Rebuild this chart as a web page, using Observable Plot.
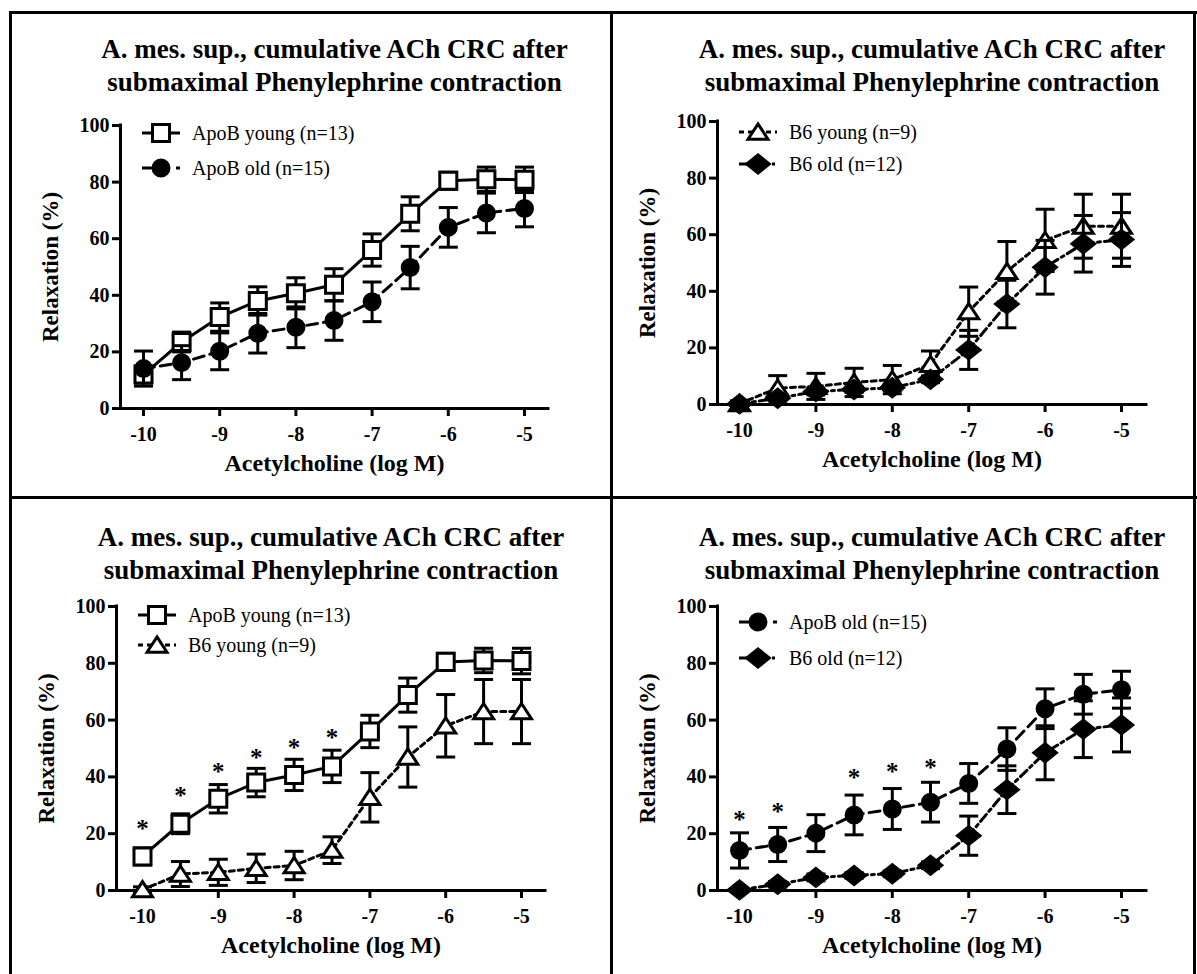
<!DOCTYPE html>
<html><head><meta charset="utf-8">
<script src="https://cdn.jsdelivr.net/npm/d3@7"></script>
<script src="https://cdn.jsdelivr.net/npm/@observablehq/plot@0.6"></script>
<style>
body{margin:0;background:#fff;}
#root{position:relative;width:1197px;height:974px;overflow:hidden;font-family:'Liberation Serif',serif;}
.panel{position:absolute;}
.border{position:absolute;background:#000;z-index:10;}
.legend{position:absolute;left:0;top:0;z-index:5;overflow:visible;}
svg text{font-family:'Liberation Serif',serif !important;}
</style></head><body><div id="root"></div><script>
// ---- data ----
const doses = [-10, -9.5, -9, -8.5, -8, -7.5, -7, -6.5, -6, -5.5, -5];
const apobYoungMean = [12, 23.5, 32.3, 38, 40.7, 43.7, 56, 68.8, 80.5, 81, 80.8];
const apobYoungSem  = [3, 3.5, 5, 5, 5.5, 5.7, 5.7, 6, 3, 4.3, 4.5];
const apobOldMean   = [14.1, 16.2, 20.2, 26.6, 28.7, 31.1, 37.7, 49.8, 64, 69.1, 70.7];
const apobOldSem    = [6.2, 6, 6.5, 7, 7.2, 7, 7, 7.5, 7, 7, 6.5];
const b6YoungMean   = [0.3, 5.8, 6.4, 7.8, 8.8, 14.2, 32.8, 47, 58, 63, 63];
const b6YoungSem    = [1, 4.4, 4.6, 5, 5, 4.7, 8.7, 10.6, 11, 11.3, 11.3];
const b6OldMean     = [0.2, 2.2, 4.6, 5.3, 5.9, 8.9, 19.3, 35.5, 48.5, 56.8, 58.3];
const b6OldSem      = [0.5, 1, 1.2, 1, 1, 1.2, 6.9, 8.4, 9.5, 10, 9.5];
const starsYoungX = [-10, -9.5, -9, -8.5, -8, -7.5];
const starsYoungY = [23.5, 35, 43.5, 48.5, 52, 55.5];
const starsOldX = [-10, -9.5, -8.5, -8, -7.5];
const starsOldY = [26.5, 29.5, 41.5, 43.5, 45];
const xTicks = [-10, -9, -8, -7, -6, -5];
const yTicks = [0, 20, 40, 60, 80, 100];
const titleText = "A. mes. sup., cumulative ACh CRC after\nsubmaximal Phenylephrine contraction";
const xLabel = "Acetylcholine (log M)";
const yLabel = "Relaxation (%)";

// ---- symbols & series styles ----
const triSymbol = {draw(ctx, size) { const r = Math.sqrt(size / Math.PI);
  ctx.moveTo(0, -0.85 * r); ctx.lineTo(1.05 * r, 0.75 * r); ctx.lineTo(-1.05 * r, 0.75 * r); ctx.closePath(); }};
const diaSymbol = {draw(ctx, size) { const r = Math.sqrt(size / Math.PI);
  ctx.moveTo(0, -0.92 * r); ctx.lineTo(1.15 * r, 0); ctx.lineTo(0, 0.92 * r); ctx.lineTo(-1.15 * r, 0); ctx.closePath(); }};
const capSymbol = {draw(ctx, size) { const w = Math.sqrt(size / Math.PI); ctx.moveTo(-w, 0); ctx.lineTo(w, 0); }};
const series = {
  apobYoung: {label: "ApoB young (n=13)", mean: apobYoungMean, sem: apobYoungSem, symbol: d3.symbolSquare, fill: "white", r: 9.6, dash: null},
  apobOld:   {label: "ApoB old (n=15)", mean: apobOldMean, sem: apobOldSem, symbol: d3.symbolCircle, fill: "black", r: 8, dash: "11,6"},
  b6Young:   {label: "B6 young (n=9)", mean: b6YoungMean, sem: b6YoungSem, symbol: triSymbol, fill: "white", r: 9.5, dash: "5,4"},
  b6Old:     {label: "B6 old (n=12)", mean: b6OldMean, sem: b6OldSem, symbol: diaSymbol, fill: "black", r: 9.8, dash: "9,4,3,4"}
};

const panels = [
  {left:10, top:12, w:601, h:485, axisX:120, x10:143, x5:524, xEnd:548, y0:408, y100:125, titleY:63.5, legendY:[133,168], keys:["apobYoung","apobOld"], stars:null},
  {left:611, top:12, w:586, h:485, axisX:717, x10:739, x5:1121, xEnd:1146, y0:404, y100:121, titleY:63.5, legendY:[132,164], keys:["b6Young","b6Old"], stars:null},
  {left:10, top:497, w:601, h:477, axisX:116, x10:142, x5:521, xEnd:545, y0:890, y100:606, titleY:551, legendY:[615,645], keys:["apobYoung","b6Young"], stars:[starsYoungX, starsYoungY]},
  {left:611, top:497, w:586, h:477, axisX:717, x10:739, x5:1121, xEnd:1146, y0:890, y100:606, titleY:551, legendY:[622,658], keys:["apobOld","b6Old"], stars:[starsOldX, starsOldY]}
];

const FONT = "Liberation Serif";
const root = document.getElementById("root");

function rowsOf(s) {
  return doses.map((x, i) => ({x, y: s.mean[i], lo: s.mean[i] - s.sem[i], hi: s.mean[i] + s.sem[i]}));
}

for (const p of panels) {
  const k = (p.x5 - p.x10) / 5;
  const xmin = -10 - (p.x10 - p.axisX) / k;
  const xmax = -5 + (p.xEnd - p.x5) / k;
  const marks = [];
  marks.push(Plot.ruleY([0], {stroke: "black", strokeWidth: 3, strokeLinecap: "square"}));
  marks.push(Plot.ruleX([xmin], {stroke: "black", strokeWidth: 3, strokeLinecap: "square"}));
  marks.push(Plot.axisX({ticks: xTicks, tickFormat: d => `${d}`, tickSize: 8, tickPadding: 10, strokeWidth: 3,
    fontSize: 20, fontWeight: "bold", fontFamily: FONT, fill: "black", stroke: "black", label: null}));
  marks.push(Plot.axisY({ticks: yTicks, tickFormat: d => `${d}`, tickSize: 8, tickPadding: 3, strokeWidth: 3,
    fontSize: 20, fontWeight: "bold", fontFamily: FONT, fill: "black", stroke: "black", label: null}));
  for (const key of p.keys) {
    const s = series[key];
    const rows = rowsOf(s);
    marks.push(Plot.ruleX(rows, {x: "x", y1: "lo", y2: "hi", stroke: "black", strokeWidth: 3}));
    marks.push(Plot.dot(rows, {x: "x", y: "hi", symbol: capSymbol, r: 9.5, stroke: "black", strokeWidth: 3, fill: "none"}));
    marks.push(Plot.dot(rows, {x: "x", y: "lo", symbol: capSymbol, r: 9.5, stroke: "black", strokeWidth: 3, fill: "none"}));
    marks.push(Plot.line(rows, {x: "x", y: "y", stroke: "black", strokeWidth: 3, strokeDasharray: s.dash}));
    marks.push(Plot.dot(rows, {x: "x", y: "y", symbol: s.symbol, r: s.r, fill: s.fill, stroke: "black", strokeWidth: 3}));
  }
  if (p.stars) {
    const [sx, sy] = p.stars;
    const starRows = sx.map((x, i) => ({x, y: sy[i]}));
    marks.push(Plot.text(starRows, {x: "x", y: "y", text: () => "*", fontSize: 25, fontWeight: "bold", fontFamily: FONT, fill: "black", dy: 5}));
  }
  marks.push(Plot.text([titleText], {frameAnchor: "top", dy: p.titleY - p.y100, lineAnchor: "middle", lineHeight: 1.222,
    fontSize: 27, fontWeight: "bold", fontFamily: FONT, fill: "black"}));
  marks.push(Plot.text([xLabel], {frameAnchor: "bottom", dy: 55, lineAnchor: "middle",
    fontSize: 24, fontWeight: "bold", fontFamily: FONT, fill: "black"}));
  marks.push(Plot.text([yLabel], {frameAnchor: "left", dx: -70, rotate: -90, lineAnchor: "middle", textAnchor: "middle",
    fontSize: 23, fontWeight: "bold", fontFamily: FONT, fill: "black"}));

  const chart = Plot.plot({
    width: p.w, height: p.h,
    marginLeft: p.axisX - p.left, marginRight: p.left + p.w - p.xEnd,
    marginTop: p.y100 - p.top, marginBottom: p.top + p.h - p.y0,
    x: {domain: [xmin, xmax], axis: null},
    y: {domain: [0, 100], axis: null},
    style: {background: "transparent", overflow: "visible"},
    marks
  });
  d3.select(chart).selectAll("text").style("font-family", "'Liberation Serif', serif");
  const div = document.createElement("div");
  div.className = "panel";
  div.style.left = p.left + "px";
  div.style.top = p.top + "px";
  div.appendChild(chart);
  root.appendChild(div);

  // legend
  const leg = d3.create("svg").attr("class", "legend").attr("width", 1197).attr("height", 974);
  p.keys.forEach((key, i) => {
    const s = series[key];
    const y = p.legendY[i];
    const g = leg.append("g");
    g.append("line").attr("x1", p.axisX + 22).attr("x2", p.axisX + 60).attr("y1", y).attr("y2", y)
      .attr("stroke", "black").attr("stroke-width", 3).attr("stroke-dasharray", s.dash);
    g.append("path").attr("transform", `translate(${p.axisX + 41},${y})`)
      .attr("d", d3.symbol(s.symbol, Math.PI * s.r * s.r)())
      .attr("fill", s.fill).attr("stroke", "black").attr("stroke-width", 3);
    g.append("text").attr("x", p.axisX + 72).attr("y", y).attr("dy", "0.34em")
      .style("font-family", "'Liberation Serif', serif").attr("font-size", 20).attr("fill", "black").text(s.label);
  });
  root.appendChild(leg.node());
}

// panel borders
const borders = [
  [9, 11, 1188, 3], [9, 11, 3, 963], [1193, 11, 3, 963], [610, 11, 3, 963], [9, 496, 1188, 3]
];
for (const [l, t, w, h] of borders) {
  const b = document.createElement("div");
  b.className = "border";
  Object.assign(b.style, {left: l + "px", top: t + "px", width: w + "px", height: h + "px"});
  root.appendChild(b);
}
</script></body></html>
